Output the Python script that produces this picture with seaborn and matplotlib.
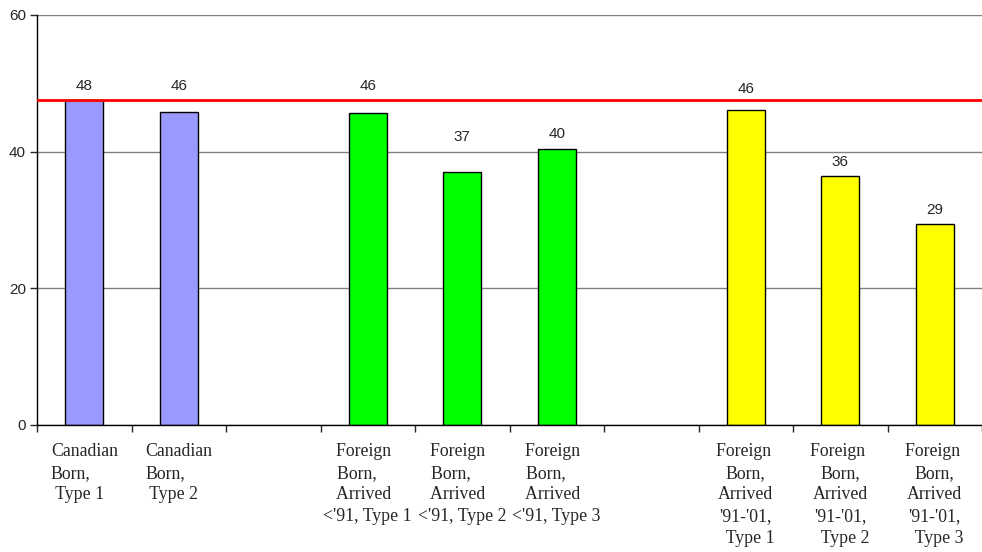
import numpy as np
import pandas as pd
import matplotlib
matplotlib.use("Agg")
import matplotlib.pyplot as plt
import seaborn as sns

# slots along the x axis, two of them left empty as spacers
slots = ["cb1", "cb2", "gap1", "fb1", "fb2", "fb3", "gap2", "rb1", "rb2", "rb3"]
slot_labels = [
    "Canadian\nBorn,\n Type 1",
    "Canadian\nBorn,\n Type 2",
    "",
    "Foreign  \nBorn,     \nArrived  \n<'91, Type 1",
    "Foreign  \nBorn,     \nArrived  \n<'91, Type 2",
    "Foreign  \nBorn,     \nArrived  \n<'91, Type 3",
    "",
    "Foreign \nBorn,\nArrived\n'91-'01,\n  Type 1",
    "Foreign \nBorn,\nArrived\n'91-'01,\n  Type 2",
    "Foreign \nBorn,\nArrived\n'91-'01,\n  Type 3",
]
bar_slots = ["cb1", "cb2", "fb1", "fb2", "fb3", "rb1", "rb2", "rb3"]
bar_values = [47.6, 45.8, 45.7, 37.0, 40.4, 46.1, 36.4, 29.4]
bar_groups = ["canadian", "canadian", "early", "early", "early", "recent", "recent", "recent"]
reference_line = 47.6

palette = {"canadian": "#9999FF", "early": "#00FF00", "recent": "#FFFF00"}
label_pad = [5, 13.5, 14, 20, 5.5, 10, 5, 5]  # label offsets in points, as placed in the original

df = pd.DataFrame({"slot": bar_slots, "value": bar_values, "group": bar_groups})

sns.set_style("white")
fig = plt.figure(figsize=(9.82, 5.52), dpi=100)
ax = fig.add_axes([37 / 982, 127 / 552, 945 / 982, 410 / 552])

sns.barplot(data=df, x="slot", y="value", hue="group", order=slots, palette=palette,
            saturation=1, dodge=False, width=0.4, edgecolor="black", linewidth=1.0,
            legend=False, ax=ax)

# value labels above each bar
patches = [p for p in ax.patches if p.get_height() > 0]
patches.sort(key=lambda p: p.get_x())
for p, pad in zip(patches, label_pad):
    ax.annotate(f"{p.get_height():.0f}", (p.get_x() + p.get_width() / 2, p.get_height()),
                xytext=(0, pad), textcoords="offset points", ha="center", va="bottom",
                fontsize=11, family="Liberation Sans")

ax.axhline(reference_line, color="#FF0000", lw=2, zorder=5)

ax.set_ylim(0, 60)
ax.set_xlim(-0.5, len(slots) - 0.5)
ax.set_yticks([0, 20, 40, 60])
ax.yaxis.grid(True, color="#808080", lw=1)
ax.set_axisbelow(True)
for t in ax.get_yticklabels():
    t.set_family("Liberation Sans")
ax.tick_params(axis="y", which="major", left=True, length=5, width=1, labelsize=11, pad=3)

ax.set_xticks(np.arange(-0.5, len(slots), 1.0))
ax.set_xticklabels([])
ax.set_xticks(np.arange(len(slots)), minor=True)
ax.set_xticklabels(slot_labels, minor=True, fontsize=12.8, family="Liberation Serif",
                   linespacing=1.36, va="top")
for i, t in enumerate(ax.get_xticklabels(minor=True)):
    if i < 2:
        t.set_multialignment("left")
ax.tick_params(axis="x", which="major", bottom=True, length=5, width=1)
ax.tick_params(axis="x", which="minor", length=0, pad=13)

ax.set_xlabel("")
ax.set_ylabel("")
for s in ["top", "right"]:
    ax.spines[s].set_visible(False)
for s in ["left", "bottom"]:
    ax.spines[s].set_color("black")
    ax.spines[s].set_linewidth(1)

fig.savefig("out.png", dpi=100)
